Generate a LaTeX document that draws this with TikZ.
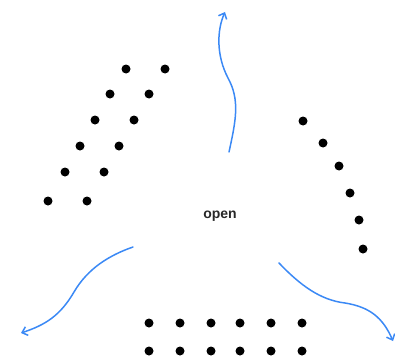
\documentclass[tikz,border=0pt]{standalone}
\usepackage{fontspec}
\setmainfont{Liberation Sans}
\usetikzlibrary{arrows.meta}
\definecolor{flowblue}{RGB}{59,137,245}
\definecolor{labelgray}{RGB}{40,40,40}
\tikzset{
  dot/.style={circle,fill=black,inner sep=0pt,minimum size=9pt},
  flow/.style={draw=flowblue,line width=1.5pt,line cap=round,-{Straight Barb[length=5pt,width=9pt,line width=1.5pt]}},
  lbl/.style={font=\fontsize{14}{16}\selectfont\bfseries,text=labelgray}
}
\begin{document}
\begin{tikzpicture}[x=1pt,y=-1pt]
\useasboundingbox (0,0) rectangle (395,361);
% centre label
\node[lbl] (open) at (220,216) {open};
% left slanted double row
\foreach \i/\x/\y in {1/126/69,2/110/94,3/95/120,4/80/146,5/65/172,6/48/201}{
  \node[dot] (la\i) at (\x,\y) {};
  \node[dot] (lb\i) at (\x+39,\y) {};
}
% right arc
\foreach \i/\x/\y in {1/303/121,2/323/143,3/339/166,4/350/193,5/359/220,6/363/249}{
  \node[dot] (r\i) at (\x,\y) {};
}
% bottom rows
\foreach \i/\x in {1/149,2/180,3/211,4/240,5/271,6/302}{
  \node[dot] (ba\i) at (\x,323) {};
  \node[dot] (bb\i) at (\x,351) {};
}
% arrow ends
\coordinate (ts) at (229,152);
\coordinate (te) at (225,12);
\coordinate (ls) at (133,247);
\coordinate (le) at (21,333);
\coordinate (rs) at (279,263);
\coordinate (re) at (393,341);
\draw[flow] (ts) .. controls (236,120) and (240,100) .. (228,78)
  .. controls (216,55) and (217,30) .. (te);
\draw[flow] (ls) .. controls (110,255) and (88,268) .. (74,292)
  .. controls (60,316) and (45,325) .. (le);
\draw[flow] (rs) .. controls (300,285) and (320,300) .. (345,303)
  .. controls (370,307) and (383,318) .. (re);
\end{tikzpicture}
\end{document}
